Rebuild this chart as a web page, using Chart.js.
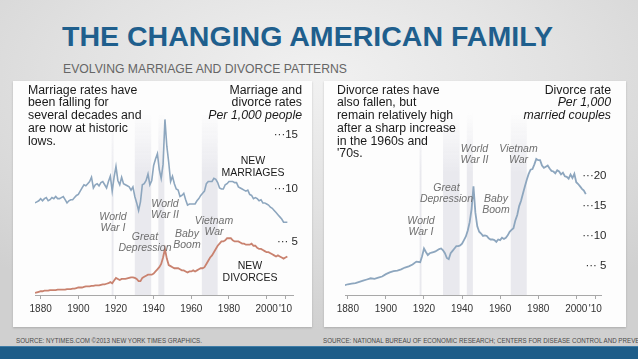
<!DOCTYPE html>
<html><head><meta charset="utf-8">
<script src="https://cdn.jsdelivr.net/npm/chart.js@4"></script>
<style>
html,body{margin:0;padding:0;}
body{width:638px;height:359px;overflow:hidden;position:relative;font-family:"Liberation Sans",Arial,sans-serif;
background:radial-gradient(ellipse 75% 70% at 50% 22%, #f1f1f1 0%, #e2e2e2 50%, #d0d0d0 100%);}
.abs{position:absolute;white-space:nowrap;}
.panel{position:absolute;background:#fdfdfd;box-shadow:0 1px 2px rgba(0,0,0,0.18);}
#title{left:62px;top:23px;font-weight:bold;font-size:28px;line-height:28px;color:#1f5f8d;transform-origin:0 0;}
#subtitle{left:63px;top:62px;font-size:13.5px;line-height:14px;color:#666;transform-origin:0 0;}
.body{font-size:12.3px;line-height:12.75px;color:#1a1a1a;}
.rt{text-align:right;}
.it{font-style:italic;}
.ann{font-style:italic;font-size:10.5px;line-height:11.3px;color:#6f6f6f;text-align:center;transform:translateX(-50%);}
.lab{font-size:10.5px;line-height:12px;color:#1a1a1a;text-align:center;transform:translateX(-50%);}
.src{font-size:7px;line-height:8px;color:#4a4a4a;transform-origin:0 0;}
#band{position:absolute;left:0;top:346px;width:638px;height:13px;background:#1d5d89;border-top:1px solid #3f7ca6;}
canvas{position:absolute;}
</style></head>
<body>
<div id="title" class="abs">THE CHANGING AMERICAN FAMILY</div>
<div id="subtitle" class="abs">EVOLVING MARRIAGE AND DIVORCE PATTERNS</div>

<div class="panel" style="left:13px;top:81px;width:299px;height:246px;"></div>
<div class="panel" style="left:324px;top:81px;width:302px;height:246px;"></div>

<div style="position:absolute;left:13px;top:81px;width:299px;height:246px;"><canvas id="leftChart"></canvas></div>
<div style="position:absolute;left:324px;top:81px;width:302px;height:246px;"><canvas id="rightChart"></canvas></div>

<div class="abs body" style="left:28px;top:83.5px;">Marriage rates have<br>been falling for<br>several decades and<br>are now at historic<br>lows.</div>
<div class="abs body rt" style="right:336px;top:83.5px;">Marriage and<br>divorce rates<br><span class="it">Per 1,000 people</span></div>
<div class="abs lab" style="left:253px;top:154px;">NEW<br>MARRIAGES</div>
<div class="abs lab" style="left:250px;top:259px;">NEW<br>DIVORCES</div>
<div class="abs ann" style="left:113px;top:211px;">World<br>War I</div>
<div class="abs ann" style="left:145px;top:230.5px;">Great<br>Depression</div>
<div class="abs ann" style="left:165px;top:197.5px;">World<br>War II</div>
<div class="abs ann" style="left:187px;top:228px;">Baby<br>Boom</div>
<div class="abs ann" style="left:214px;top:214.5px;">Vietnam<br>War</div>

<div class="abs body" style="left:337px;top:83.5px;">Divorce rates have<br>also fallen, but<br>remain relatively high<br>after a sharp increase<br>in the 1960s and<br>'70s.</div>
<div class="abs body rt" style="right:27px;top:83.5px;">Divorce rate<br><span class="it">Per 1,000<br>married couples</span></div>
<div class="abs ann" style="left:421px;top:214.5px;">World<br>War I</div>
<div class="abs ann" style="left:446.5px;top:181.5px;">Great<br>Depression</div>
<div class="abs ann" style="left:474.5px;top:142.5px;">World<br>War II</div>
<div class="abs ann" style="left:496px;top:192.5px;">Baby<br>Boom</div>
<div class="abs ann" style="left:518.5px;top:142.5px;">Vietnam<br>War</div>

<div id="src1" class="abs src" style="left:16px;top:337px;">SOURCE: NYTIMES.COM ©2013 NEW YORK TIMES GRAPHICS.</div>
<div id="src2" class="abs src" style="left:323px;top:337px;">SOURCE: NATIONAL BUREAU OF ECONOMIC RESEARCH; CENTERS FOR DISEASE CONTROL AND PREVENTION</div>
<div id="band"></div>

<script>
// ---- Data ----
const leftYears = [1877,1878,1879,1880,1881,1882,1883,1884,1885,1886,1887,1888,1889,1890,1891,1892,1893,1894,1895,1896,1897,1898,1899,1900,1901,1902,1903,1904,1905,1906,1907,1908,1909,1910,1911,1912,1913,1914,1915,1916,1917,1918,1919,1920,1921,1922,1923,1924,1925,1926,1927,1928,1929,1930,1931,1932,1933,1934,1935,1936,1937,1938,1939,1940,1941,1942,1943,1944,1945,1946,1947,1948,1949,1950,1951,1952,1953,1954,1955,1956,1957,1958,1959,1960,1961,1962,1963,1964,1965,1966,1967,1968,1969,1970,1971,1972,1973,1974,1975,1976,1977,1978,1979,1980,1981,1982,1983,1984,1985,1986,1987,1988,1989,1990,1991,1992,1993,1994,1995,1996,1997,1998,1999,2000,2001,2002,2003,2004,2005,2006,2007,2008,2009,2010,2011];
const marriageRates = [8.6,8.7,8.8,9.0,8.8,9.0,9.1,8.8,8.9,9.1,9.0,9.2,9.0,9.0,9.1,9.2,8.9,8.6,8.8,8.9,8.9,9.1,9.3,9.4,9.7,10.0,10.3,10.2,10.4,10.6,11.0,10.0,10.3,10.4,10.2,10.5,10.6,10.3,10.0,10.6,11.1,9.7,11.0,12.0,10.7,10.3,11.0,10.4,10.3,10.2,10.1,9.8,10.1,9.2,8.6,7.9,8.7,10.3,10.4,10.7,11.3,10.3,10.7,12.1,12.7,13.2,11.7,10.9,12.2,16.4,13.9,12.4,10.6,11.1,10.4,9.9,9.8,9.2,9.3,9.5,8.9,8.4,8.5,8.5,8.5,8.5,8.8,9.0,9.3,9.5,9.7,10.4,10.6,10.6,10.6,10.9,10.8,10.5,10.0,9.9,9.9,10.3,10.4,10.6,10.6,10.6,10.5,10.5,10.1,10.0,9.9,9.8,9.7,9.8,9.4,9.3,9.0,9.1,9.0,8.8,8.9,8.6,8.6,8.5,8.4,8.2,8.1,7.9,7.7,7.5,7.3,7.1,6.8,6.8,6.8];
const divorceRates = [0.2,0.25,0.3,0.35,0.35,0.4,0.4,0.4,0.45,0.45,0.45,0.45,0.5,0.5,0.5,0.5,0.5,0.55,0.55,0.55,0.6,0.6,0.65,0.7,0.7,0.7,0.75,0.8,0.8,0.8,0.85,0.85,0.9,0.9,0.9,0.95,1.0,1.0,1.05,1.1,1.2,1.1,1.35,1.6,1.5,1.4,1.5,1.5,1.5,1.55,1.6,1.65,1.65,1.6,1.5,1.3,1.3,1.6,1.7,1.8,1.9,1.9,1.9,2.0,2.2,2.4,2.6,2.9,3.5,4.3,3.4,2.8,2.7,2.6,2.5,2.5,2.5,2.4,2.3,2.3,2.2,2.1,2.2,2.2,2.3,2.2,2.3,2.4,2.5,2.5,2.6,2.9,3.2,3.5,3.7,4.0,4.3,4.6,4.8,5.0,5.0,5.1,5.3,5.3,5.3,5.1,5.0,5.0,5.0,4.9,4.8,4.8,4.7,4.7,4.7,4.8,4.6,4.6,4.4,4.3,4.3,4.2,4.1,4.0,4.0,3.9,3.8,3.7,3.6,3.7,3.6,3.5,3.4,3.5,3.6];

const rightYears = [1878,1880,1882,1884,1886,1888,1890,1892,1894,1896,1898,1900,1902,1904,1906,1908,1910,1912,1914,1916,1918,1919,1920,1921,1922,1923,1924,1925,1926,1927,1928,1929,1930,1931,1932,1933,1934,1935,1936,1937,1938,1939,1940,1941,1942,1943,1944,1945,1946,1947,1948,1949,1950,1951,1952,1953,1954,1955,1956,1957,1958,1959,1960,1961,1962,1963,1964,1965,1966,1967,1968,1969,1970,1971,1972,1973,1974,1975,1976,1977,1978,1979,1980,1981,1982,1983,1984,1985,1986,1987,1988,1989,1990,1991,1992,1993,1994,1995,1996,1997,1998,1999,2000,2001,2002,2003,2004,2005];
const coupleDivorceRates = [1.6,1.8,1.9,2.0,2.2,2.4,2.6,2.8,2.7,2.9,3.1,3.5,3.8,4.0,4.1,4.3,4.6,4.8,5.1,5.6,5.5,6.5,7.8,7.2,6.7,7.0,7.1,7.2,7.3,7.5,7.7,7.8,7.5,7.0,6.2,6.0,7.0,7.4,7.8,8.2,8.2,8.3,8.6,9.2,9.8,10.8,12.2,14.4,18.2,13.8,11.5,10.6,10.3,9.9,10.0,9.9,9.5,9.3,9.3,9.2,8.9,9.3,9.2,9.6,9.4,9.6,10.0,10.6,10.9,11.2,12.5,13.4,14.9,15.8,17.0,18.2,19.3,20.3,21.0,21.1,21.9,22.8,22.6,22.6,21.7,21.3,21.5,21.7,21.2,20.8,20.7,20.4,20.9,20.7,20.2,20.5,19.9,19.8,19.5,20.2,19.6,20.3,18.9,18.6,18.2,17.8,17.5,16.9];

const xTickYears = [1880,1900,1920,1940,1960,1980,2000,2010];
const leftYTicks = [5,10,15];
const rightYTicks = [5,10,15,20];
const bandStarts = [1917.7,1930.0,1942.5,1965.6];
const bandEnds   = [1918.7,1938.7,1945.7,1974.0];

// ---- Plugins ----
const bandsPlugin = {
  id:'bands',
  beforeDatasetsDraw(chart){
    const {ctx, chartArea:ca, scales:{x}} = chart;
    ctx.save();
    const g = ctx.createLinearGradient(0, ca.top, 0, ca.top + 60);
    g.addColorStop(0,'rgba(233,233,238,0)');
    g.addColorStop(1,'rgba(233,233,238,1)');
    ctx.fillStyle = g;
    bandStarts.forEach((s,i)=>{
      const x1 = x.getPixelForValue(s), x2 = x.getPixelForValue(bandEnds[i]);
      ctx.fillRect(x1, ca.top, x2-x1, ca.bottom-ca.top);
    });
    ctx.restore();
  }
};
const yLabelPlugin = {
  id:'yLabels',
  afterDraw(chart, args, opts){
    const {ctx, chartArea:ca, scales:{y}} = chart;
    ctx.save();
    ctx.font = '11.5px "Liberation Sans", Arial, sans-serif';
    ctx.fillStyle = '#2a2a2a';
    ctx.textAlign = 'right';
    ctx.textBaseline = 'middle';
    opts.values.forEach(v=>{
      ctx.fillText('\u00B7\u00B7\u00B7' + (v<10?' ':'') + v, ca.right + opts.offset, y.getPixelForValue(v)+0.5);
    });
    ctx.restore();
  }
};

function xScale(min, max){
  return {
    type:'linear', min:min, max:max,
    afterBuildTicks: s => { s.ticks = xTickYears.map(v=>({value:v})); },
    ticks:{ autoSkip:false, maxRotation:0, padding:4, color:'#333', font:{size:10, family:'"Liberation Sans", Arial, sans-serif'},
      callback: v => v===2010 ? "'10" : String(v) },
    grid:{ drawOnChartArea:false, drawTicks:true, tickLength:4, color:'#a8a8a8' },
    border:{ color:'#a8a8a8', width:1 }
  };
}

Chart.defaults.animation = false;

new Chart(document.getElementById('leftChart'), {
  type:'line',
  data:{ datasets:[
    { label:'New marriages', data: leftYears.map((yr,i)=>({x:yr, y:marriageRates[i]})),
      borderColor:'#8da6be', borderWidth:1.6, pointRadius:0, tension:0, fill:false },
    { label:'New divorces', data: leftYears.map((yr,i)=>({x:yr, y:divorceRates[i]})),
      borderColor:'#c9826f', borderWidth:1.8, pointRadius:0, tension:0, fill:false }
  ]},
  options:{
    responsive:true, maintainAspectRatio:false, animation:false,
    layout:{ padding:{ left:22, right:19, top:32, bottom:8 } },
    plugins:{ legend:{display:false}, tooltip:{enabled:false}, yLabels:{ values:leftYTicks, offset:5 } },
    scales:{ x:xScale(1877, 2014), y:{ display:false, min:0, max:17 } }
  },
  plugins:[bandsPlugin, yLabelPlugin]
});

new Chart(document.getElementById('rightChart'), {
  type:'line',
  data:{ datasets:[
    { label:'Divorce rate', data: rightYears.map((yr,i)=>({x:yr, y:coupleDivorceRates[i]})),
      borderColor:'#8da6be', borderWidth:1.8, pointRadius:0, tension:0, fill:false }
  ]},
  options:{
    responsive:true, maintainAspectRatio:false, animation:false,
    layout:{ padding:{ left:21, right:25, top:32, bottom:8 } },
    plugins:{ legend:{display:false}, tooltip:{enabled:false}, yLabels:{ values:rightYTicks, offset:5.5 } },
    scales:{ x:xScale(1878.5, 2013), y:{ display:false, min:0, max:30.5 } }
  },
  plugins:[bandsPlugin, yLabelPlugin]
});

// fit header / source widths
function fit(id, w){ const el=document.getElementById(id); const cw=el.getBoundingClientRect().width; const k=w/cw; el.style.transform='scaleX('+k+')'; return k; }
fit('title', 491);
fit('subtitle', 284);
const k = fit('src1', 186);
document.getElementById('src2').style.transform = 'scaleX('+k+')';
</script>
</body></html>
